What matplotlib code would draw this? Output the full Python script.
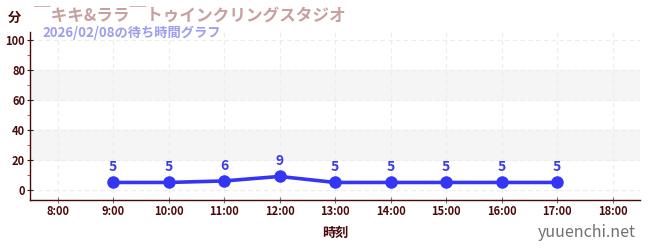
import matplotlib
matplotlib.use('Agg')
import matplotlib.pyplot as plt
from matplotlib.ticker import FixedLocator

plt.rcParams['font.family'] = ['Noto Sans CJK JP', 'DejaVu Sans']

# wait times (minutes) by hour
hours = [9, 10, 11, 12, 13, 14, 15, 16, 17]
waits = [5, 5, 6, 9, 5, 5, 5, 5, 5]
tick_hours = [8, 9, 10, 11, 12, 13, 14, 15, 16, 17, 18]
tick_labels = [f'{h}:00' for h in tick_hours]
y_ticks = [0, 20, 40, 60, 80, 100]

title = '￣キキ&ララ￣トゥインクリングスタジオ'
subtitle = '2026/02/08の待ち時間グラフ'

dark = '#4a0a0a'
fig = plt.figure(figsize=(6.5, 2.5), dpi=100)
ax = fig.add_axes([0.046, 0.2, 0.939, 0.672])

# alternating light bands
for lo, hi in [(20, 40), (60, 80)]:
    ax.axhspan(lo, hi, color='#f5f5f5', zorder=0)

ax.plot(hours, waits, color='#3535f5', lw=2.6, marker='o', ms=8, zorder=3)
for h, w in zip(hours, waits):
    ax.annotate(str(w), (h, w), xytext=(0, 6), textcoords='offset points',
                ha='center', va='bottom', color='#3a3af0', fontsize=10,
                fontweight='bold')

ax.set_xlim(7.5, 18.5)
ax.set_ylim(-6.7, 105.3)
ax.set_xticks(tick_hours)
ax.set_xticklabels(tick_labels)
ax.set_yticks(y_ticks)
ax.yaxis.set_minor_locator(FixedLocator([10, 30, 50, 70, 90]))

ax.grid(True, which='major', color='#ececec', ls=(0, (4, 3)), lw=0.8)
ax.set_axisbelow(True)

for s in ['top', 'right']:
    ax.spines[s].set_visible(False)
for s in ['left', 'bottom']:
    ax.spines[s].set_color(dark)
    ax.spines[s].set_linewidth(1.0)

ax.tick_params(axis='both', which='major', colors=dark, labelsize=8,
               length=4, direction='inout', pad=1.5)
ax.tick_params(axis='x', which='major', color='#777777')
ax.tick_params(axis='y', which='major', color='#222222')
ax.tick_params(axis='y', which='minor', color='#dd2222', length=2.5)
for lab in ax.get_xticklabels() + ax.get_yticklabels():
    lab.set_fontweight('bold')

ax.set_xlabel('時刻', color=dark, fontsize=9.5, fontweight='bold', labelpad=6)

fig.text(0.023, 0.93, '分', color=dark, fontsize=9.5, fontweight='bold',
         ha='center', va='center')
fig.text(0.053, 0.935, title, color='#c9a0a0', fontsize=12, fontweight='bold',
         ha='left', va='center')
fig.text(0.066, 0.87, subtitle, color='#9c9cf0', fontsize=9.5, fontweight='bold',
         ha='left', va='center')
fig.text(0.978, 0.07, 'yuuenchi.net', color='#707070', fontsize=11.5,
         ha='right', va='center')

plt.savefig('out.png', dpi=100)
